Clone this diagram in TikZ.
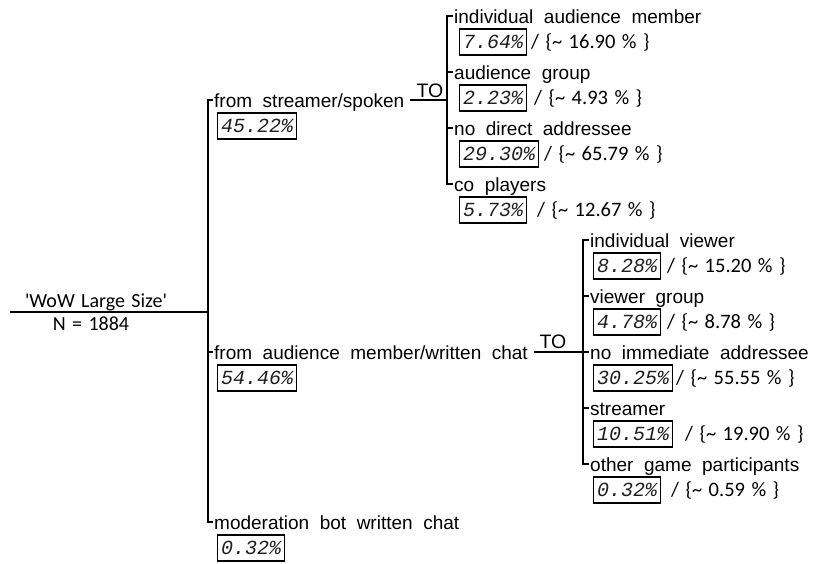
\documentclass[tikz,border=0pt]{standalone}
\usepackage{fontspec}
\setmainfont{Liberation Sans}
\newfontfamily\labfont[WordSpace=2]{Liberation Sans}
\newfontfamily\calfont[Ligatures=TeXOff]{Carlito}
\newfontfamily\sharefont[WordSpace=1.4]{Carlito}
\newfontfamily\pctfont{Liberation Mono}

\begin{document}
\begin{tikzpicture}[x=1pt,y=-1pt,
  wire/.style={line width=1.2pt, black},
  lab/.style={anchor=west, inner xsep=1pt, inner ysep=0pt, text height=14pt, text depth=0pt,
    font=\labfont\fontsize{19}{19}\selectfont},
  pctbox/.style={draw=black, line width=1.1pt, anchor=west, inner xsep=3.5pt, inner ysep=6.5pt,
    text height=13pt, text depth=0pt, text=black!88, font=\pctfont\itshape\fontsize{20}{20}\selectfont},
  share/.style={anchor=base west, inner sep=0pt, font=\sharefont\fontsize{20.5}{20.5}\selectfont},
  tolab/.style={anchor=base, inner sep=0pt, font=\labfont\fontsize{19.5}{19.5}\selectfont},
  rootlab/.style={anchor=base, inner sep=0pt, font=\calfont\fontsize{20}{20}\selectfont}]
\useasboundingbox (0,0) rectangle (817,563);

% root
\coordinate (rootL) at (10,312);
\coordinate (rootR) at (208,312);
\draw[wire] (rootL) -- (rootR);
\node[rootlab] (title) at (96,307) {'WoW Large Size'};
\node[rootlab] (total) at (91,330) {N = 1884};

% first level
\node[lab] (fs) at (213,100) {from streamer/spoken};
\node[lab] (fa) at (213,352) {from audience member/written chat};
\node[lab] (fm) at (213,522) {moderation bot written chat};
\draw[wire] (fs.west) -- ++(-5,0) |- (fm.west);
\draw[wire] (fa.west) -- ++(-5,0);
\node[pctbox] (pfs) at (217,126) {45.22\%};
\node[pctbox] (pfa) at (217,378) {54.46\%};
\node[pctbox] (pfm) at (217,548) {0.32\%};

% spoken: addressees
\coordinate (j1) at (447,100);
\draw[wire] ([xshift=5pt]fs.east) -- (j1);
\node[tolab] (to1) at (430,97) {TO};
\node[lab] (s1) at (453,16) {individual audience member};
\node[lab] (s2) at (453,72) {audience group};
\node[lab] (s3) at (453,128) {no direct addressee};
\node[lab] (s4) at (453,184) {co players};
\draw[wire] (s1.west) -- ++(-6,0) |- (s4.west);
\draw[wire] (s2.west) -- ++(-6,0);
\draw[wire] (s3.west) -- ++(-6,0);
\node[pctbox] (ps1) at (459,42) {7.64\%};
\node[pctbox] (ps2) at (459,98) {2.23\%};
\node[pctbox] (ps3) at (459,154) {29.30\%};
\node[pctbox] (ps4) at (459,210) {5.73\%};
\node[share] (rs1) at (531,48.5) {/ \{\textasciitilde\ 16.90 \% \}};
\node[share] (rs2) at (534,104.5) {/ \{\textasciitilde\ 4.93 \% \}};
\node[share] (rs3) at (544,160.5) {/ \{\textasciitilde\ 65.79 \% \}};
\node[share] (rs4) at (537,216.5) {/ \{\textasciitilde\ 12.67 \% \}};

% written chat: addressees
\coordinate (j2) at (583,352);
\draw[wire] ([xshift=5pt]fa.east) -- (j2);
\node[tolab] (to2) at (553,348) {TO};
\node[lab] (w1) at (589,240) {individual viewer};
\node[lab] (w2) at (589,296) {viewer group};
\node[lab] (w3) at (589,352) {no immediate addressee};
\node[lab] (w4) at (589,408) {streamer};
\node[lab] (w5) at (589,464) {other game participants};
\draw[wire] (w1.west) -- ++(-6,0) |- (w5.west);
\draw[wire] (w2.west) -- ++(-6,0);
\draw[wire] (w3.west) -- ++(-6,0);
\draw[wire] (w4.west) -- ++(-6,0);
\node[pctbox] (pw1) at (593,266) {8.28\%};
\node[pctbox] (pw2) at (593,322) {4.78\%};
\node[pctbox] (pw3) at (593,378) {30.25\%};
\node[pctbox] (pw4) at (593,434) {10.51\%};
\node[pctbox] (pw5) at (593,490) {0.32\%};
\node[share] (rw1) at (667,272.5) {/ \{\textasciitilde\ 15.20 \% \}};
\node[share] (rw2) at (667,328.5) {/ \{\textasciitilde\ 8.78 \% \}};
\node[share] (rw3) at (676,384.5) {/ \{\textasciitilde\ 55.55 \% \}};
\node[share] (rw4) at (685,440.5) {/ \{\textasciitilde\ 19.90 \% \}};
\node[share] (rw5) at (671,496.5) {/ \{\textasciitilde\ 0.59 \% \}};
\end{tikzpicture}
\end{document}
